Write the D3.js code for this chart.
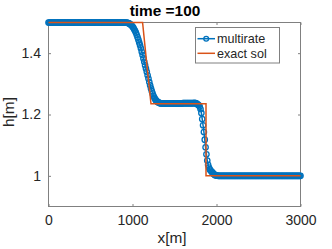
<!DOCTYPE html>
<html>
<head>
<meta charset="utf-8">
<script src="https://cdn.jsdelivr.net/npm/d3@7"></script>
<style>
  body { margin: 0; background: #fff; }
  svg { display: block; font-family: "Liberation Sans", Arial, sans-serif; }
</style>
</head>
<body>
<div id="chart"></div>
<script>
// numerical solution (multirate), x in m
var numX = [
  0, 10, 20, 30, 40, 50, 60, 70, 80, 90,
  100, 110, 120, 130, 140, 150, 160, 170, 180, 190,
  200, 210, 220, 230, 240, 250, 260, 270, 280, 290,
  300, 310, 320, 330, 340, 350, 360, 370, 380, 390,
  400, 410, 420, 430, 440, 450, 460, 470, 480, 490,
  500, 510, 520, 530, 540, 550, 560, 570, 580, 590,
  600, 610, 620, 630, 640, 650, 660, 670, 680, 690,
  700, 710, 720, 730, 740, 750, 760, 770, 780, 790,
  800, 810, 820, 830, 840, 850, 860, 870, 880, 890,
  900, 910, 920, 930, 940, 950, 960, 970, 980, 990,
  1000, 1010, 1020, 1030, 1040, 1050, 1060, 1070, 1080, 1090,
  1100, 1110, 1120, 1130, 1140, 1150, 1160, 1170, 1180, 1190,
  1200, 1210, 1220, 1230, 1240, 1250, 1260, 1270, 1280, 1290,
  1300, 1310, 1320, 1330, 1340, 1350, 1360, 1370, 1380, 1390,
  1400, 1410, 1420, 1430, 1440, 1450, 1460, 1470, 1480, 1490,
  1500, 1510, 1520, 1530, 1540, 1550, 1560, 1570, 1580, 1590,
  1600, 1610, 1620, 1630, 1640, 1650, 1660, 1670, 1680, 1690,
  1700, 1710, 1720, 1730, 1740, 1750, 1760, 1770, 1780, 1790,
  1800, 1810, 1820, 1830, 1840, 1850, 1860, 1870, 1880, 1890,
  1900, 1910, 1920, 1930, 1940, 1950, 1960, 1970, 1980, 1990,
  2000, 2010, 2020, 2030, 2040, 2050, 2060, 2070, 2080, 2090,
  2100, 2110, 2120, 2130, 2140, 2150, 2160, 2170, 2180, 2190,
  2200, 2210, 2220, 2230, 2240, 2250, 2260, 2270, 2280, 2290,
  2300, 2310, 2320, 2330, 2340, 2350, 2360, 2370, 2380, 2390,
  2400, 2410, 2420, 2430, 2440, 2450, 2460, 2470, 2480, 2490,
  2500, 2510, 2520, 2530, 2540, 2550, 2560, 2570, 2580, 2590,
  2600, 2610, 2620, 2630, 2640, 2650, 2660, 2670, 2680, 2690,
  2700, 2710, 2720, 2730, 2740, 2750, 2760, 2770, 2780, 2790,
  2800, 2810, 2820, 2830, 2840, 2850, 2860, 2870, 2880, 2890,
  2900, 2910, 2920, 2930, 2940, 2950, 2960, 2970, 2980, 2990,
  3000
];
var numH = [
  1.5, 1.5, 1.5, 1.5, 1.5, 1.5, 1.5, 1.5, 1.5, 1.5,
  1.5, 1.5, 1.5, 1.5, 1.5, 1.5, 1.5, 1.5, 1.5, 1.5,
  1.5, 1.5, 1.5, 1.5, 1.5, 1.5, 1.5, 1.5, 1.5, 1.5,
  1.5, 1.5, 1.5, 1.5, 1.5, 1.5, 1.5, 1.5, 1.5, 1.5,
  1.5, 1.5, 1.5, 1.5, 1.5, 1.5, 1.5, 1.5, 1.5, 1.5,
  1.5, 1.5, 1.5, 1.5, 1.5, 1.5, 1.5, 1.5, 1.5, 1.5,
  1.5, 1.5, 1.5, 1.5, 1.5, 1.5, 1.5, 1.5, 1.5, 1.5,
  1.5, 1.5, 1.5, 1.5, 1.5, 1.5, 1.5, 1.5, 1.5, 1.5,
  1.5, 1.5, 1.5, 1.5, 1.5, 1.5, 1.5, 1.5, 1.5, 1.5,
  1.5, 1.5, 1.4998, 1.4995, 1.499, 1.498, 1.497, 1.495, 1.493, 1.490,
  1.487, 1.483, 1.478, 1.473, 1.467, 1.460, 1.452, 1.444, 1.435, 1.426,
  1.416, 1.405, 1.394, 1.383, 1.372, 1.361, 1.350, 1.339, 1.328, 1.317,
  1.306, 1.295, 1.285, 1.276, 1.268, 1.261, 1.255, 1.250, 1.246, 1.243,
  1.241, 1.239, 1.238, 1.237, 1.236, 1.236, 1.236, 1.236, 1.236, 1.236,
  1.236, 1.236, 1.236, 1.236, 1.236, 1.236, 1.236, 1.236, 1.236, 1.236,
  1.236, 1.236, 1.236, 1.236, 1.236, 1.236, 1.236, 1.236, 1.236, 1.236,
  1.237, 1.237, 1.237, 1.237, 1.237, 1.237, 1.237, 1.237, 1.237, 1.237,
  1.237, 1.237, 1.237, 1.237, 1.238, 1.237, 1.236, 1.234, 1.232, 1.230,
  1.226, 1.218, 1.205, 1.185, 1.165, 1.143, 1.118, 1.093, 1.070, 1.050,
  1.036, 1.027, 1.021, 1.017, 1.014, 1.011, 1.008, 1.005, 1.003, 1.002,
  1.001, 1.0005, 1, 1, 1, 1, 1, 1, 1, 1,
  1, 1, 1, 1, 1, 1, 1, 1, 1, 1,
  1, 1, 1, 1, 1, 1, 1, 1, 1, 1,
  1, 1, 1, 1, 1, 1, 1, 1, 1, 1,
  1, 1, 1, 1, 1, 1, 1, 1, 1, 1,
  1, 1, 1, 1, 1, 1, 1, 1, 1, 1,
  1, 1, 1, 1, 1, 1, 1, 1, 1, 1,
  1, 1, 1, 1, 1, 1, 1, 1, 1, 1,
  1, 1, 1, 1, 1, 1, 1, 1, 1, 1,
  1, 1, 1, 1, 1, 1, 1, 1, 1, 1,
  1
];

// exact solution
var exactX = [0, 1120, 1170, 1220, 1875, 1875, 3000];
var exactH = [1.5, 1.5, 1.365, 1.235, 1.235, 1.0, 1.0];

var xTicks = [0, 1000, 2000, 3000];
var yTicks = [1, 1.2, 1.4];
var seriesNames = ["multirate", "exact sol"];
var titleText = "time =100";

var svgWidth = 332;
var svgHeight = 249;
var blue = "#0072BD";
var orange = "#D95319";
var axisColor = "#808080";
var textColor = "#262626";

var svg = d3.select("#chart")
    .append("svg")
    .attr("width", svgWidth)
    .attr("height", svgHeight);

var xScale = d3.scaleLinear()
    .domain([0, 3000])
    .range([48.5, 300.5]);

var yScale = d3.scaleLinear()
    .domain([0.9, 1.5])
    .range([206.5, 22.5]);

// axes with inward ticks, box on
var bottomAxis = d3.axisBottom(xScale).tickValues(xTicks).tickSizeInner(-2.5).tickSizeOuter(0).tickPadding(8.5).tickFormat(d3.format("d"));
var topAxis = d3.axisTop(xScale).tickValues(xTicks).tickSizeInner(-2.5).tickSizeOuter(0).tickFormat("");
var leftAxis = d3.axisLeft(yScale).tickValues(yTicks).tickSizeInner(-2.5).tickSizeOuter(0).tickPadding(7.5).tickFormat(d3.format("~g"));
var rightAxis = d3.axisRight(yScale).tickValues(yTicks).tickSizeInner(-2.5).tickSizeOuter(0).tickFormat("");

function styleAxis(g) {
    g.select(".domain").remove();
    g.selectAll(".tick line").attr("stroke", axisColor);
    g.selectAll(".tick text")
        .attr("fill", textColor)
        .style("font-size", "14px")
        .style("font-family", "'Liberation Sans', Arial, sans-serif");
}

svg.append("g").attr("transform", "translate(0," + yScale(0.9) + ")").call(bottomAxis).call(styleAxis);
svg.append("g").attr("transform", "translate(0," + yScale(1.5) + ")").call(topAxis).call(styleAxis);
svg.append("g").attr("transform", "translate(" + xScale(0) + ",0)").call(leftAxis).call(styleAxis);
svg.append("g").attr("transform", "translate(" + xScale(3000) + ",0)").call(rightAxis).call(styleAxis);

svg.append("rect")
    .attr("x", xScale(0))
    .attr("y", yScale(1.5))
    .attr("width", xScale(3000) - xScale(0))
    .attr("height", yScale(0.9) - yScale(1.5))
    .attr("fill", "none")
    .attr("stroke", axisColor)
    .attr("stroke-width", 1);

// multirate: line + open circles
var numData = numX.map(function(x, i) { return [x, numH[i]]; });
var line = d3.line()
    .x(function(d) { return xScale(d[0]); })
    .y(function(d) { return yScale(d[1]); });

svg.append("path")
    .datum(numData)
    .attr("d", line)
    .attr("fill", "none")
    .attr("stroke", blue)
    .attr("stroke-width", 1.5);

svg.append("g").selectAll("circle")
    .data(numData)
    .enter()
    .append("circle")
    .attr("cx", function(d) { return xScale(d[0]); })
    .attr("cy", function(d) { return yScale(d[1]); })
    .attr("r", 2.7)
    .attr("fill", "none")
    .attr("stroke", blue)
    .attr("stroke-width", 1.3);

// exact solution
var exactData = exactX.map(function(x, i) { return [x, exactH[i]]; });
svg.append("path")
    .datum(exactData)
    .attr("d", line)
    .attr("fill", "none")
    .attr("stroke", orange)
    .attr("stroke-width", 1.5);

// title and labels
svg.append("text")
    .attr("x", 165)
    .attr("y", 16)
    .attr("text-anchor", "middle")
    .style("font-size", "15.4px")
    .style("font-weight", "bold")
    .attr("fill", "#000")
    .text(titleText);

svg.append("text")
    .attr("x", 172)
    .attr("y", 243)
    .attr("text-anchor", "middle")
    .style("font-size", "15.4px")
    .attr("fill", textColor)
    .text("x[m]");

svg.append("text")
    .attr("transform", "translate(14,112) rotate(-90)")
    .attr("text-anchor", "middle")
    .style("font-size", "15.4px")
    .attr("fill", textColor)
    .text("h[m]");

// legend
var legend = svg.append("g");
legend.append("rect")
    .attr("x", 195.5)
    .attr("y", 27.5)
    .attr("width", 84)
    .attr("height", 35.5)
    .attr("fill", "#fff")
    .attr("stroke", axisColor)
    .attr("stroke-width", 1);

var legendY = [38.7, 53.3];
var legendColors = [blue, orange];

seriesNames.forEach(function(name, i) {
    legend.append("line")
        .attr("x1", 197.5)
        .attr("x2", 215)
        .attr("y1", legendY[i])
        .attr("y2", legendY[i])
        .attr("stroke", legendColors[i])
        .attr("stroke-width", 1.5);
    if (i === 0) {
        legend.append("circle")
            .attr("cx", 206.2)
            .attr("cy", legendY[i])
            .attr("r", 2.4)
            .attr("fill", "none")
            .attr("stroke", blue)
            .attr("stroke-width", 1.3);
    }
    legend.append("text")
        .attr("x", 217)
        .attr("y", legendY[i])
        .attr("dy", "0.35em")
        .style("font-size", "12.6px")
        .attr("fill", textColor)
        .text(name);
});
</script>
</body>
</html>
